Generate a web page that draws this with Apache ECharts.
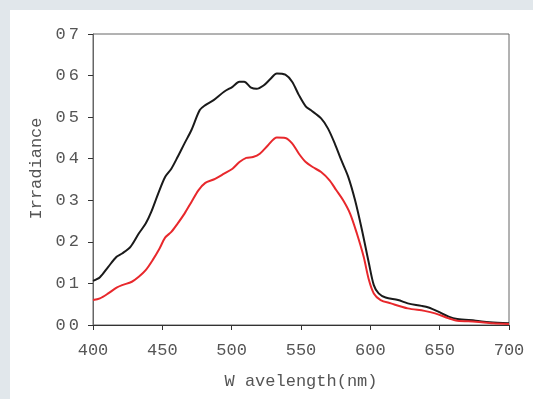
<!DOCTYPE html>
<html>
<head>
<meta charset="utf-8">
<script src="https://cdn.jsdelivr.net/npm/echarts@6/dist/echarts.min.js"></script>
<style>
  html, body { margin: 0; padding: 0; }
  body { width: 533px; height: 399px; background: #e1e7eb; position: relative; overflow: hidden; }
  #chart { position: absolute; left: 10px; top: 10px; width: 523px; height: 389px; background: #fff; }
</style>
</head>
<body>
<div id="chart"></div>
<script>
var chart = echarts.init(document.getElementById('chart'));

// wavelength (nm), irradiance
var blackWave = [400, 405, 411, 417, 421, 427, 433, 438, 442, 447, 452, 456.5, 461, 466, 471, 477, 481, 487, 494.5, 500.6, 505.6, 509, 514, 518, 523, 527.7, 532.6, 538.7, 543.6, 548.5, 553.4, 557, 564.5, 569.4, 574.3, 579, 584, 589, 594, 599, 602.5, 606, 611, 620, 627, 637, 642, 649, 656.5, 662.7, 676, 686, 700];
var blackVals = [0.106, 0.115, 0.14, 0.164, 0.172, 0.188, 0.22, 0.244, 0.272, 0.316, 0.356, 0.376, 0.404, 0.437, 0.469, 0.517, 0.529, 0.541, 0.561, 0.573, 0.585, 0.585, 0.571, 0.568, 0.576, 0.591, 0.605, 0.602, 0.585, 0.553, 0.526, 0.517, 0.497, 0.473, 0.437, 0.397, 0.357, 0.30, 0.228, 0.148, 0.096, 0.076, 0.066, 0.060, 0.052, 0.046, 0.042, 0.032, 0.020, 0.0144, 0.0104, 0.0064, 0.004];

var redWave = [400, 405, 411, 417, 421, 428, 433, 438, 443, 448, 452, 456.5, 461, 466, 471, 476, 481, 487, 494.5, 500.6, 505.6, 510.5, 515.4, 520.3, 526.4, 532.6, 538.7, 543.6, 548.5, 553.4, 558.4, 564.5, 570.6, 575.5, 580.4, 585.4, 590.3, 595.2, 599, 602.5, 607.4, 614.8, 627, 639, 646.7, 656.5, 662.7, 676, 688.5, 700];
var redVals = [0.060, 0.064, 0.076, 0.09, 0.096, 0.104, 0.116, 0.132, 0.156, 0.184, 0.21, 0.224, 0.244, 0.268, 0.296, 0.324, 0.342, 0.35, 0.364, 0.376, 0.392, 0.402, 0.404, 0.412, 0.433, 0.451, 0.450, 0.437, 0.412, 0.392, 0.380, 0.368, 0.348, 0.324, 0.30, 0.268, 0.22, 0.164, 0.108, 0.076, 0.060, 0.052, 0.040, 0.034, 0.028, 0.016, 0.0104, 0.008, 0.004, 0.0024];

function pairs(xs, ys) {
    return xs.map(function (x, i) { return [x, ys[i]]; });
}

var monoFont = '"Liberation Mono", "Courier New", monospace';
var textGrey = '#555';

var option = {
    animation: false,
    grid: {
        left: 83,
        right: 24,
        top: 24,
        bottom: 74,
        show: true,
        borderColor: '#666',
        borderWidth: 1
    },
    xAxis: {
        type: 'value',
        min: 400,
        max: 700,
        interval: 50,
        name: 'W avelength(nm)',
        nameLocation: 'middle',
        nameGap: 48,
        nameTextStyle: { fontFamily: monoFont, fontSize: 17, color: textGrey },
        axisLine: { lineStyle: { color: '#333', width: 1 } },
        axisTick: { show: true, length: 5, lineStyle: { color: '#333' } },
        axisLabel: { fontFamily: monoFont, fontSize: 17, color: textGrey, margin: 17 },
        splitLine: { show: false }
    },
    yAxis: {
        type: 'value',
        min: 0,
        max: 0.7,
        interval: 0.1,
        name: 'Irradiance',
        nameLocation: 'middle',
        nameGap: 46,
        nameTextStyle: { fontFamily: monoFont, fontSize: 17, color: textGrey, padding: [0, 0, 0, 22] },
        axisLine: { show: true, lineStyle: { color: '#666', width: 1 } },
        axisTick: { show: true, length: 5, lineStyle: { color: '#333' } },
        axisLabel: {
            margin: 14,
            formatter: function (v) {
                var p = v.toFixed(1).split('.');
                return '{i|' + p[0] + '}{f|' + p[1] + '}';
            },
            rich: {
                i: { fontFamily: monoFont, fontSize: 17, color: textGrey, padding: [0, 3, 0, 0] },
                f: { fontFamily: monoFont, fontSize: 17, color: textGrey }
            }
        },
        splitLine: { show: false }
    },
    series: [
        {
            type: 'line',
            data: pairs(blackWave, blackVals),
            smooth: 0.3,
            showSymbol: false,
            lineStyle: { color: '#1a1a1a', width: 2 }
        },
        {
            type: 'line',
            data: pairs(redWave, redVals),
            smooth: 0.3,
            showSymbol: false,
            lineStyle: { color: '#e8282c', width: 2 }
        }
    ]
};

chart.setOption(option);
</script>
</body>
</html>
